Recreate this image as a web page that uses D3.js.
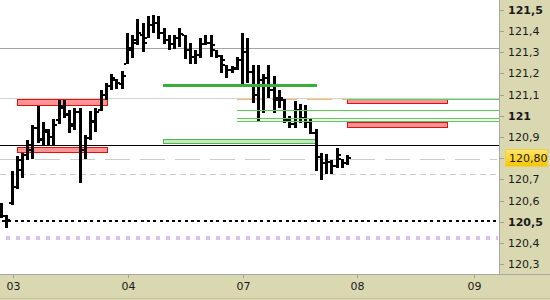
<!DOCTYPE html>
<html>
<head>
<meta charset="utf-8">
<script src="https://cdn.jsdelivr.net/npm/d3@7"></script>
<style>
  body { margin: 0; background: #fff; }
  svg { display: block; }
</style>
</head>
<body>
<div id="chart"></div>
<script>
// OHLC bars
const high = [120.588,120.532,120.739,120.810,120.824,120.886,120.957,121.046,120.971,120.938,
  120.985,121.075,121.075,121.028,121.037,121.037,120.909,121.023,121.037,121.122,
  121.155,121.198,121.174,121.212,121.391,121.382,121.457,121.439,121.472,121.476,
  121.472,121.415,121.382,121.382,121.415,121.382,121.344,121.311,121.368,121.382,
  121.382,121.311,121.287,121.240,121.235,121.278,121.391,121.368,121.240,121.240,
  121.198,121.240,121.188,121.122,121.080,120.999,121.070,121.056,121.051,120.985,
  120.938,120.824,120.820,120.791,120.848,120.796,120.815];
const low = [120.517,120.470,120.579,120.654,120.706,120.791,120.796,120.872,120.862,120.858,
  120.862,120.961,120.990,120.919,120.933,120.684,120.796,120.886,120.924,121.023,
  121.075,121.122,121.127,121.127,121.245,121.273,121.335,121.302,121.368,121.391,
  121.363,121.339,121.311,121.316,121.325,121.269,121.245,121.245,121.273,121.335,
  121.278,121.273,121.202,121.179,121.202,121.217,121.150,121.155,121.061,120.976,
  121.013,121.084,121.013,121.037,120.966,120.943,120.943,120.966,120.943,120.914,
  120.739,120.697,120.725,120.725,120.754,120.754,120.768];
const open = [120.579,120.527,120.588,120.664,120.744,120.815,120.839,120.943,120.886,120.924,
  120.900,120.980,121.037,121.004,120.961,121.018,120.839,120.895,120.971,121.028,
  121.098,121.141,121.169,121.150,121.245,121.311,121.358,121.382,121.368,121.429,
  121.439,121.391,121.358,121.339,121.368,121.382,121.311,121.278,121.287,121.339,
  121.344,121.311,121.283,121.240,121.217,121.226,121.264,121.302,121.207,121.098,
  121.169,121.179,121.122,121.075,121.075,120.980,120.961,121.028,120.990,120.971,
  120.919,120.806,120.777,120.782,120.763,120.796,120.777];
const close = [120.527,120.508,120.664,120.791,120.815,120.862,120.943,120.891,120.933,120.900,
  120.957,121.046,121.009,120.952,121.018,120.839,120.895,120.976,121.018,121.098,
  121.141,121.179,121.155,121.188,121.320,121.344,121.391,121.344,121.429,121.439,
  121.391,121.358,121.339,121.368,121.387,121.311,121.278,121.287,121.339,121.344,
  121.335,121.283,121.264,121.217,121.221,121.264,121.302,121.207,121.098,121.169,
  121.179,121.122,121.084,121.084,120.980,120.961,121.028,120.990,120.971,120.919,
  120.806,120.777,120.782,120.763,120.815,120.777,120.801];

// time axis (positions in bar units)
const xTickPos = [2.2, 24.2, 46.1, 68.0, 90.3];
const xTickLabels = ['03', '04', '07', '08', '09'];

// price axis
const yTicks = [121.5, 121.4, 121.3, 121.2, 121.1, 121.0, 120.9, 120.8, 120.7, 120.6, 120.5, 120.4, 120.3];
const boldTicks = [121.5, 121.0, 120.5];
const lastPrice = 120.80;

// drawn levels
const greyLevel = 121.319;
const lightGreyLevel = 121.082;
const blackLevel = 120.861;
const longDashLevel = 120.795;
const shortDashLevel = 120.724;
const dottedLevel = 120.505;
const purpleLevel = 120.424;
const orangeLevel = { value: 121.078, from: 45.0 };
const greenThick = { value: 121.147, from: 30.9, to: 60.3 };
const greenThin = [
  { value: 121.081, from: 66.0 },
  { value: 121.028, from: 45.0 },
  { value: 120.988, from: 45.0 },
  { value: 120.974, from: 45.0 }
];
const redZones = [
  { top: 121.080, bottom: 121.050, from: 3.05, to: 20.2 },
  { top: 120.851, bottom: 120.829, from: 3.05, to: 20.2 },
  { top: 121.078, bottom: 121.059, from: 66.0, to: 85.1 },
  { top: 120.973, bottom: 120.949, from: 66.0, to: 85.1 }
];
const greenZone = { top: 120.891, bottom: 120.870, from: 30.9, to: 60.3 };

const W = 550, H = 300;
const plotR = 499, plotB = 274;
const panel = '#d9d8b1';

const svg = d3.select('#chart').append('svg')
  .attr('width', W).attr('height', H)
  .style('font-family', "'DejaVu Sans', sans-serif");

const x = d3.scaleLinear().domain([-0.2, 95]).range([0, plotR]);
const y = d3.scaleLinear().domain([120.253, 121.547]).range([plotB, 0]);

svg.append('rect').attr('width', W).attr('height', H).attr('fill', '#fff');
svg.append('rect').attr('x', plotR).attr('y', 0).attr('width', W - plotR).attr('height', H).attr('fill', panel);
svg.append('rect').attr('x', 0).attr('y', plotB).attr('width', W).attr('height', H - plotB).attr('fill', panel);

const g = svg.append('g').attr('shape-rendering', 'crispEdges');
const x0 = x.range()[0], x1 = plotR;

function hline(v, from, to, color, width, dash) {
  const yy = Math.round(y(v)) + (width % 2 ? 0.5 : 0);
  g.append('line')
    .attr('x1', from).attr('x2', to)
    .attr('y1', yy).attr('y2', yy)
    .attr('stroke', color).attr('stroke-width', width)
    .attr('stroke-dasharray', dash || null);
}

hline(greyLevel, x0, x1, '#a4a4a4', 1);
hline(lightGreyLevel, x0, x1, '#d4d4d4', 1);
hline(longDashLevel, x0, 497, '#cccccc', 1, '25,10');
hline(shortDashLevel, x0, 497, '#cccccc', 1, '6,4');
hline(dottedLevel, 2, 496, '#000', 2, '3,3.3');
hline(purpleLevel, 6, 498, '#dcc0ee', 4, '4,6');
hline(orangeLevel.value, x(orangeLevel.from), x1, '#f5bb66', 1.5, '25,10');

// zones
g.selectAll('rect.red').data(redZones).join('rect')
  .attr('class', 'red')
  .attr('x', d => Math.round(x(d.from)) + 0.5)
  .attr('y', d => Math.round(y(d.top)) + 0.5)
  .attr('width', d => Math.round(x(d.to) - x(d.from)))
  .attr('height', d => Math.round(y(d.bottom) - y(d.top)))
  .attr('fill', '#ff9494').attr('stroke', '#e41010');

g.append('rect')
  .attr('x', Math.round(x(greenZone.from)) + 0.5)
  .attr('y', Math.round(y(greenZone.top)) + 0.5)
  .attr('width', Math.round(x(greenZone.to) - x(greenZone.from)))
  .attr('height', Math.round(y(greenZone.bottom) - y(greenZone.top)))
  .attr('fill', '#c4e8c2').attr('stroke', '#4cb648');

// bars
const bars = g.append('g');
high.forEach((h, i) => {
  const cx = Math.round(x(i));
  bars.append('rect').attr('x', cx - 1).attr('y', Math.round(y(h)))
    .attr('width', 3).attr('height', Math.max(2, Math.round(y(low[i]) - y(h))))
    .attr('fill', '#000');
  bars.append('rect').attr('x', cx - 3).attr('y', Math.round(y(open[i])) - 1)
    .attr('width', 2).attr('height', 2).attr('fill', '#000');
  bars.append('rect').attr('x', cx + 2).attr('y', Math.round(y(close[i])) - 1)
    .attr('width', 2).attr('height', 2).attr('fill', '#000');
});

hline(blackLevel, x0, x1, '#000', 1);
hline(greenThick.value, x(greenThick.from), x(greenThick.to), '#3aae36', 3);
greenThin.forEach(d => hline(d.value, x(d.from), x1, '#55d04f', 1.5));

// frame
g.append('line').attr('x1', plotR + 0.5).attr('x2', plotR + 0.5).attr('y1', 0).attr('y2', plotB + 0.5)
  .attr('stroke', '#a8a8a8');
g.append('line').attr('x1', 0).attr('x2', W).attr('y1', plotB + 0.5).attr('y2', plotB + 0.5)
  .attr('stroke', '#a8a8a8');
g.append('line').attr('x1', 0).attr('x2', W).attr('y1', H - 1.5).attr('y2', H - 1.5)
  .attr('stroke', '#c4c39c');

// right price axis
const fmt = v => d3.format('.1f')(v).replace(/\.0$/, '').replace('.', ',');
const yAxis = svg.append('g');
yTicks.forEach(v => {
  const yy = Math.round(y(v)) + 0.5;
  yAxis.append('line').attr('x1', plotR + 1).attr('x2', plotR + 5).attr('y1', yy).attr('y2', yy)
    .attr('stroke', '#a0a0a0').attr('shape-rendering', 'crispEdges');
  if (Math.abs(v - lastPrice) < 1e-6) return;
  yAxis.append('text').attr('x', 508).attr('y', yy).attr('dy', '0.36em')
    .attr('font-size', 11)
    .attr('font-weight', boldTicks.includes(v) ? 'bold' : 'normal')
    .attr('fill', '#1a1a1a')
    .text(fmt(v));
});

// current price tag
const defs = svg.append('defs');
const grad = defs.append('linearGradient').attr('id', 'tag').attr('x1', 0).attr('x2', 0).attr('y1', 0).attr('y2', 1);
grad.append('stop').attr('offset', 0).attr('stop-color', '#ffe566');
grad.append('stop').attr('offset', 1).attr('stop-color', '#f7c600');
const ty = Math.round(y(lastPrice));
svg.append('rect').attr('x', 505.5).attr('y', ty - 8.5).attr('width', 42).attr('height', 17)
  .attr('fill', 'url(#tag)').attr('stroke', '#e8cf55');
svg.append('text').attr('x', 509).attr('y', ty + 0.5).attr('dy', '0.36em')
  .attr('font-size', 11).attr('fill', '#1a1a1a')
  .text(d3.format('.2f')(lastPrice).replace('.', ','));

// bottom time axis
const xAxis = svg.append('g');
xTickPos.forEach((p, i) => {
  const xx = Math.round(x(p)) + 0.5;
  xAxis.append('line').attr('x1', xx).attr('x2', xx).attr('y1', plotB + 1).attr('y2', plotB + 4)
    .attr('stroke', '#a0a0a0').attr('shape-rendering', 'crispEdges');
  xAxis.append('text').attr('x', xx).attr('y', 290).attr('text-anchor', 'middle')
    .attr('font-size', 11).attr('fill', '#1a1a1a')
    .text(xTickLabels[i]);
});
</script>
</body>
</html>
